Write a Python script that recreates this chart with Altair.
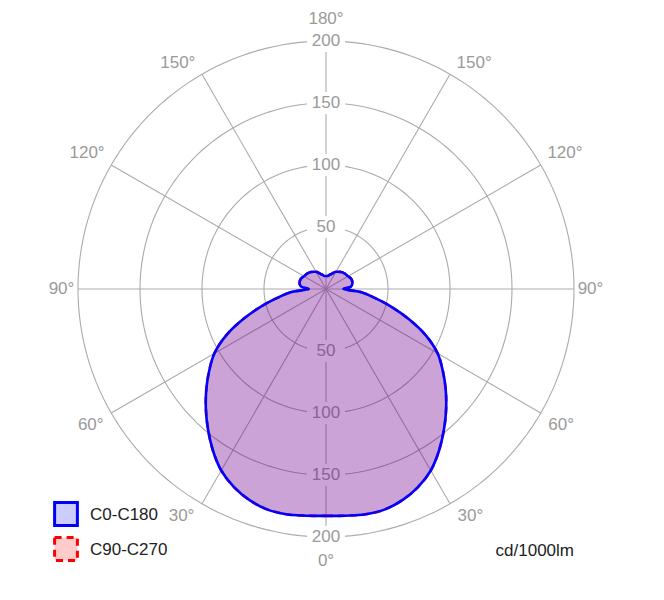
import altair as alt
import pandas as pd

# ---- data ----
gamma = [0, 5, 10, 15, 20, 25, 30, 35, 40, 45, 50, 55, 60, 65, 70, 75, 80, 85, 90,
         95, 100, 105, 110, 115, 120, 125, 130, 135, 140, 145, 150, 155, 160, 165, 170, 175, 180]
c0 = [183, 183.5, 184.5, 184, 181, 176, 169, 159, 148, 137, 126, 115, 104, 89, 71, 54, 39, 28, 14,
      20, 21.5, 22, 22, 21.5, 20.5, 20, 19.5, 19, 18, 17, 16, 14.5, 13, 12, 11, 10.5, 10.5]
c180 = list(c0)
c90 = list(c0)
c270 = list(c0)

rings = [50, 100, 150, 200]
spoke_angles = [0, 30, 60, 90, 120, 150]
label_angles = [0, 30, 60, 90, 120, 150, 180]
label_texts = ["0°", "30°", "60°", "90°", "120°", "150°", "180°"]
legend_names = ["C0-C180", "C90-C270"]
unit_text = "cd/1000lm"

FONT = "Liberation Sans"
FS = 17
GRID = "#ababab"
LABEL = "#9a9a9a"

# ---- tables built from the arrays ----
def loop(name, right, left):
    rows = []
    k = 0
    for g, v in zip(gamma, right):
        rows.append({"pair": name, "g": g, "cd": v, "side": 1, "k": k}); k += 1
    for g, v in zip(reversed(gamma), list(reversed(left))):
        rows.append({"pair": name, "g": g, "cd": v, "side": -1, "k": k}); k += 1
    return pd.DataFrame(rows)

curve_a = loop(legend_names[0], c0, c180)
curve_b = loop(legend_names[1], c90, c270)

lab_rows = []
for a, t in zip(label_angles, label_texts):
    lab_rows.append({"a": a, "t": t, "side": 1})
    if 0 < a < 180:
        lab_rows.append({"a": a, "t": t, "side": -1})
labels_df = pd.DataFrame(lab_rows)

ring_rows = []
for r in rings:
    ring_rows.append({"r": r, "yy": r})
    ring_rows.append({"r": r, "yy": -r})
ring_lab_df = pd.DataFrame(ring_rows)

W = 496
xs = alt.Scale(domain=[-200, 200], nice=False, zero=False)
ys = alt.Scale(domain=[-200, 200], nice=False, zero=False)

ring_layer = alt.Chart(pd.DataFrame({"r": rings})).transform_calculate(
    ang="sequence(0, 362, 2)"
).transform_flatten(["ang"]).transform_calculate(
    x="datum.r*sin(datum.ang*PI/180)", y="datum.r*cos(datum.ang*PI/180)"
).mark_line(color=GRID, strokeWidth=1.1).encode(
    x=alt.X("x:Q", scale=xs, axis=None), y=alt.Y("y:Q", scale=ys, axis=None),
    detail="r:N", order="ang:Q"
)

spoke_layer = alt.Chart(pd.DataFrame({"a": spoke_angles})).transform_calculate(
    x="200*sin(datum.a*PI/180)", y="-200*cos(datum.a*PI/180)",
    x2="-200*sin(datum.a*PI/180)", y2="200*cos(datum.a*PI/180)"
).mark_rule(color=GRID, strokeWidth=1.1).encode(
    x=alt.X("x:Q", scale=xs, axis=None), y=alt.Y("y:Q", scale=ys, axis=None),
    x2="x2:Q", y2="y2:Q"
)

ring_lab_base = alt.Chart(ring_lab_df).transform_calculate(x0="0")

ring_bg = ring_lab_base.mark_rect(width=38, height=22, color="white").encode(
    x=alt.X("x0:Q", scale=xs, axis=None), y=alt.Y("yy:Q", scale=ys, axis=None)
)
ring_txt = ring_lab_base.mark_text(font=FONT, fontSize=FS, color=LABEL, baseline="middle", align="center").encode(
    x=alt.X("x0:Q", scale=xs, axis=None), y=alt.Y("yy:Q", scale=ys, axis=None), text="r:Q"
)

def curve_layer(df, color, dash=None):
    kw = dict(fill=color, fillOpacity=0.2, stroke=color, strokeWidth=2.6, strokeJoin="round",
              interpolate="catmull-rom")
    if dash:
        kw["strokeDash"] = dash
    return alt.Chart(df).transform_calculate(
        x="datum.side*datum.cd*sin(datum.g*PI/180)",
        y="-datum.cd*cos(datum.g*PI/180)"
    ).mark_line(**kw).encode(
        x=alt.X("x:Q", scale=xs, axis=None), y=alt.Y("y:Q", scale=ys, axis=None),
        order="k:Q"
    )

red_curve = curve_layer(curve_b, "#ff0000", [7, 5])
blue_curve = curve_layer(curve_a, "#0000ff")

# angle labels sit just outside the end of each spoke
angle_layer = alt.Chart(labels_df).transform_calculate(
    dxu="datum.side * (datum.a == 90 ? 13.3 : (datum.a == 0 || datum.a == 180) ? 0 : (datum.a > 90 ? 19.5 : 16.5))",
    dyu="datum.a == 180 ? 17.7 : datum.a == 0 ? -19.4 : datum.a > 90 ? 9.4 : datum.a < 90 ? -9.8 : 0"
).transform_calculate(
    x="datum.side*200*sin(datum.a*PI/180) + datum.dxu", y="-200*cos(datum.a*PI/180) + datum.dyu"
).mark_text(font=FONT, fontSize=FS, color=LABEL, baseline="middle", align="center").encode(
    x=alt.X("x:Q", scale=xs, axis=None), y=alt.Y("y:Q", scale=ys, axis=None), text="t:N"
)

leg_blue_box = alt.Chart(pd.DataFrame({"n": [legend_names[0]]})).mark_square(
    size=520, fill="#0000ff", fillOpacity=0.2, stroke="#0000ff", strokeWidth=3, opacity=1
).encode(x=alt.value(-12), y=alt.value(473))
leg_red_box = alt.Chart(pd.DataFrame({"n": [legend_names[1]]})).mark_square(
    size=520, fill="#ff0000", fillOpacity=0.2, stroke="#ff0000", strokeWidth=3, strokeDash=[7, 5], opacity=1
).encode(x=alt.value(-12), y=alt.value(508))
leg_txt_a = alt.Chart(pd.DataFrame({"n": [legend_names[0]]})).mark_text(
    font=FONT, fontSize=FS, color="#222222", align="left", baseline="middle"
).encode(x=alt.value(12), y=alt.value(474), text="n:N")
leg_txt_b = alt.Chart(pd.DataFrame({"n": [legend_names[1]]})).mark_text(
    font=FONT, fontSize=FS, color="#222222", align="left", baseline="middle"
).encode(x=alt.value(12), y=alt.value(509), text="n:N")
unit_layer = alt.Chart(pd.DataFrame({"u": [unit_text]})).mark_text(
    font=FONT, fontSize=FS, color="#222222", align="right", baseline="middle"
).encode(x=alt.value(496), y=alt.value(510), text="u:N")

chart = alt.layer(
    ring_layer, spoke_layer, ring_bg, ring_txt, red_curve, blue_curve,
    angle_layer, leg_blue_box, leg_red_box, leg_txt_a, leg_txt_b, unit_layer
).properties(
    width=W, height=W, background="white",
    autosize=alt.AutoSizeParams(type="none"),
    padding={"left": 70, "top": 33, "right": 80, "bottom": 50}
).configure_view(strokeWidth=0, stroke="transparent")

chart.save("out.html", embed_options={"renderer": "svg", "actions": False})
